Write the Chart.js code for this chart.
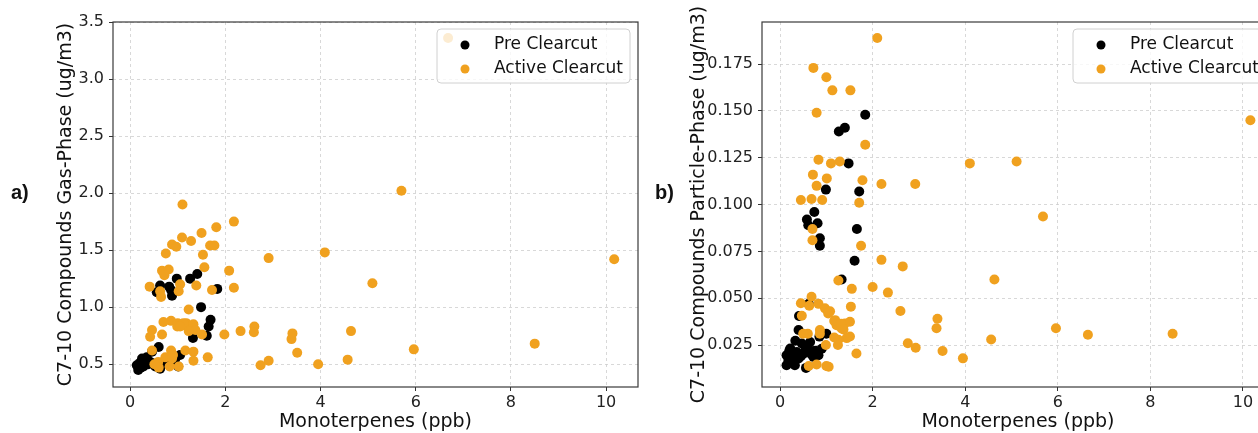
<!DOCTYPE html>
<html>
<head>
<meta charset="utf-8">
<script src="https://cdn.jsdelivr.net/npm/chart.js@4.4.1/dist/chart.umd.min.js"></script>
<style>
html, body { margin: 0; padding: 0; background: #fff; overflow: hidden; width: 1258px; height: 433px; }
#gasChart { position: absolute; left: 0; top: 0; }
#particleChart { position: absolute; left: 645px; top: 0; }
</style>
</head>
<body>
<canvas id="gasChart" width="645" height="433"></canvas>
<canvas id="particleChart" width="636" height="433"></canvas>
<script>
// series names
const seriesNames = ['Pre Clearcut', 'Active Clearcut'];

// tick labels
const monoTicks = [0, 2, 4, 6, 8, 10];
const gasTicks = [0.5, 1.0, 1.5, 2.0, 2.5, 3.0, 3.5];
const particleTicks = [0.025, 0.050, 0.075, 0.100, 0.125, 0.150, 0.175];

// a) gas phase, pre clearcut
const preGasX = [0.82, 0.98, 1.26, 1.41, 0.56, 0.88, 1.83, 0.63, 0.86,
  1.49, 1.69, 1.65, 1.61, 1.32, 0.60, 0.46,
  0.14, 0.25, 0.35, 0.28, 0.42, 0.53, 0.63, 0.80, 0.95, 1.05, 0.17, 0.74, 1.01, 0.20, 0.31, 0.22, 0.38, 0.58, 0.88];
const preGasY = [1.18, 1.25, 1.25, 1.29, 1.13, 1.10, 1.16, 1.19, 1.15,
  1.00, 0.89, 0.83, 0.75, 0.73, 0.65, 0.61,
  0.49, 0.55, 0.56, 0.48, 0.52, 0.48, 0.46, 0.51, 0.55, 0.58, 0.45, 0.52, 0.48, 0.51, 0.52, 0.47, 0.50, 0.50, 0.53];

// a) gas phase, active clearcut
const activeGasX = [6.68, 5.70, 1.10, 2.18, 1.81, 1.50, 1.09, 1.28, 0.88, 0.97, 1.68, 1.77, 0.75, 4.09, 1.53, 2.91,
  10.17, 1.56, 0.67, 0.81, 0.72, 2.08, 5.09, 1.05, 1.39, 0.41, 2.18, 0.63, 1.02, 1.72, 0.65,
  1.23, 0.70, 0.86, 1.00, 1.09, 1.18, 1.26, 1.33, 1.37, 1.23, 0.99, 1.12, 0.46, 0.42, 0.67, 1.51, 1.98, 2.32, 2.61, 2.60,
  0.46, 0.86, 1.16, 1.33, 0.90, 1.33, 1.63, 0.59, 0.83, 1.02, 2.74, 2.91, 3.51, 3.95, 3.39, 3.41, 4.57, 4.64, 5.96, 8.50,
  0.74, 0.60, 0.88, 0.51, 1.05];
const activeGasY = [3.36, 2.02, 1.90, 1.75, 1.70, 1.65, 1.61, 1.58, 1.55, 1.53, 1.54, 1.54, 1.47, 1.48, 1.46, 1.43,
  1.42, 1.35, 1.32, 1.33, 1.28, 1.32, 1.21, 1.20, 1.19, 1.18, 1.17, 1.14, 1.14, 1.15, 1.09,
  0.98, 0.87, 0.88, 0.86, 0.84, 0.86, 0.83, 0.85, 0.80, 0.79, 0.83, 0.86, 0.80, 0.74, 0.76, 0.76, 0.76, 0.79, 0.83, 0.78,
  0.62, 0.62, 0.62, 0.61, 0.58, 0.53, 0.56, 0.52, 0.48, 0.48, 0.49, 0.53, 0.60, 0.50, 0.72, 0.77, 0.54, 0.79, 0.63, 0.68,
  0.56, 0.47, 0.55, 0.50, 0.83];

// b) particle phase, pre clearcut
const preParticleX = [1.84, 1.27, 1.40, 1.48, 0.99, 1.71, 0.74, 0.58, 0.81, 0.61, 0.86, 0.86, 1.66, 1.61, 1.33,
  0.41, 0.40, 0.33, 0.62, 0.85, 1.00,
  0.14, 0.22, 0.25, 0.36, 0.40, 0.50, 0.61, 0.65, 0.76, 0.83, 0.72, 0.56, 0.14, 0.32, 0.90, 0.47, 0.20, 0.28, 0.45, 0.68, 0.55, 0.18];
const preParticleY = [0.148, 0.139, 0.141, 0.122, 0.108, 0.107, 0.096, 0.092, 0.090, 0.089, 0.082, 0.078, 0.087, 0.070, 0.060,
  0.0405, 0.033, 0.0273, 0.047, 0.0295, 0.031,
  0.0196, 0.0231, 0.0160, 0.0213, 0.0178, 0.0204, 0.0231, 0.0266, 0.0220, 0.0196, 0.0187, 0.0128, 0.0142, 0.0142, 0.0230, 0.0258, 0.0220, 0.0185, 0.0190, 0.0200, 0.0225, 0.0170];

// b) particle phase, active clearcut
const activeParticleX = [2.10, 0.72, 1.00, 1.13, 1.52, 0.79, 10.16, 1.84, 0.83, 1.10, 1.29, 4.10, 5.11, 0.71, 1.01, 1.78,
  2.19, 2.92, 0.79, 0.45, 0.68, 0.91, 1.71, 5.68, 0.70, 0.70, 1.75, 2.19, 2.65, 4.63, 1.26, 2.00, 1.55, 2.33,
  2.60, 3.40, 3.38, 5.96, 6.65, 8.48, 4.56, 2.76, 2.93, 3.51, 3.95, 1.65, 1.05,
  0.45, 0.68, 0.83, 0.63, 0.97, 1.04, 1.19, 1.22, 1.33, 1.40, 1.53, 1.51, 0.47, 0.86, 1.17, 1.32, 1.37, 1.44,
  1.26, 1.17, 1.51, 0.99, 0.86, 0.62, 0.79, 1.00, 0.60, 1.08, 1.25, 0.50];
const activeParticleY = [0.189, 0.173, 0.168, 0.161, 0.161, 0.149, 0.145, 0.132, 0.124, 0.122, 0.123, 0.122, 0.123, 0.116, 0.114, 0.113,
  0.111, 0.111, 0.110, 0.1025, 0.103, 0.1025, 0.101, 0.0936, 0.087, 0.081, 0.078, 0.0705, 0.067, 0.060, 0.0595, 0.056, 0.055, 0.053,
  0.0432, 0.039, 0.034, 0.034, 0.0305, 0.031, 0.028, 0.026, 0.0236, 0.0218, 0.0179, 0.0205, 0.0134,
  0.0473, 0.0508, 0.047, 0.046, 0.0446, 0.0418, 0.0383, 0.0356, 0.0338, 0.0365, 0.0455, 0.0374, 0.0406, 0.033, 0.0378, 0.0364, 0.0333, 0.0287,
  0.0278, 0.029, 0.0296, 0.025, 0.031, 0.0138, 0.0146, 0.0138, 0.031, 0.043, 0.025, 0.031];

const black = '#000000';
const orange = '#f0a11f';
const font = 'DejaVu Sans';

function toPoints(xs, ys) {
    return xs.map((x, i) => ({x: x, y: ys[i]}));
}

// full box round the plot, like matplotlib spines
const framePlugin = {
    id: 'frame',
    afterDraw(chart) {
        const a = chart.chartArea, c = chart.ctx;
        c.save();
        c.strokeStyle = '#3a3a3a';
        c.lineWidth = 1.2;
        c.strokeRect(a.left, a.top, a.right - a.left, a.bottom - a.top);
        c.restore();
    }
};

// legend box in the upper right corner
const boxLegendPlugin = {
    id: 'boxLegend',
    afterDraw(chart) {
        const a = chart.chartArea, c = chart.ctx;
        const w = 193, h = 54;
        const left = a.right - 8 - w, top = a.top + 7;
        c.save();
        c.fillStyle = 'rgba(255,255,255,0.8)';
        c.strokeStyle = '#d0d0d0';
        c.lineWidth = 1;
        c.beginPath();
        c.roundRect(left, top, w, h, 4);
        c.fill();
        c.stroke();
        c.font = '17px "' + font + '"';
        c.textBaseline = 'middle';
        const colors = [black, orange];
        seriesNames.forEach((name, i) => {
            const y = top + 16 + i * 24;
            c.fillStyle = colors[i];
            c.beginPath();
            c.arc(left + 28, y, 4.5, 0, Math.PI * 2);
            c.fill();
            c.fillStyle = '#111';
            c.fillText(name, left + 57, y);
        });
        c.restore();
    }
};

const panelLabelPlugin = {
    id: 'panelLabel',
    afterDraw(chart, args, opts) {
        const c = chart.ctx;
        c.save();
        c.font = 'bold 20px "Liberation Sans"';
        c.fillStyle = '#111';
        c.textBaseline = 'middle';
        c.fillText(opts.text, opts.x, 193);
        c.restore();
    }
};

function makeChart(id, cfg) {
    return new Chart(document.getElementById(id), {
        type: 'scatter',
        data: {
            datasets: [
                {label: seriesNames[0], data: cfg.pre, backgroundColor: black, pointRadius: 5, borderWidth: 0, order: 1},
                {label: seriesNames[1], data: cfg.active, backgroundColor: orange, pointRadius: 5, borderWidth: 0, order: 0}
            ]
        },
        options: {
            responsive: false,
            animation: false,
            layout: {padding: {left: 0, top: 22, right: 7, bottom: 0}},
            plugins: {
                legend: {display: false},
                tooltip: {enabled: false},
                panelLabel: {text: cfg.label, x: cfg.labelX}
            },
            scales: {
                x: {
                    type: 'linear',
                    min: cfg.xMin, max: cfg.xMax,
                    afterBuildTicks: s => { s.ticks = monoTicks.map(v => ({value: v})); },
                    afterFit: s => { s.height = 46; },
                    ticks: {font: {family: font, size: 16}, color: '#222', padding: 2,
                            callback: v => String(v)},
                    grid: {color: '#cfcfcf', lineWidth: 0.8, tickColor: '#333', tickLength: 4, tickWidth: 1},
                    border: {display: false, dash: [3, 3]},
                    title: {display: true, text: 'Monoterpenes (ppb)', font: {family: font, size: 19},
                            color: '#111', padding: {top: 0, bottom: 0}}
                },
                y: {
                    type: 'linear',
                    min: cfg.yMin, max: cfg.yMax,
                    afterBuildTicks: s => { s.ticks = cfg.yTicks.map(v => ({value: v})); },
                    afterFit: s => { s.width = cfg.yWidth; },
                    ticks: {font: {family: font, size: 16}, color: '#222', padding: 5,
                            callback: v => v.toFixed(cfg.decimals)},
                    grid: {color: '#cfcfcf', lineWidth: 0.8, tickColor: '#333', tickLength: 4, tickWidth: 1},
                    border: {display: false, dash: [3, 3]},
                    title: {display: true, text: cfg.yTitle, font: {family: font, size: 19},
                            color: '#111', padding: {top: cfg.titlePad, bottom: 0}}
                }
            }
        },
        plugins: [framePlugin, boxLegendPlugin, panelLabelPlugin]
    });
}

makeChart('gasChart', {
    pre: toPoints(preGasX, preGasY),
    active: toPoints(activeGasX, activeGasY),
    xMin: -0.36, xMax: 10.67,
    yMin: 0.3, yMax: 3.5,
    yTicks: gasTicks, decimals: 1,
    yWidth: 113, titlePad: 55,
    yTitle: 'C7-10 Compounds Gas-Phase (ug/m3)',
    label: 'a)', labelX: 11
});

makeChart('particleChart', {
    pre: toPoints(preParticleX, preParticleY),
    active: toPoints(activeParticleX, activeParticleY),
    xMin: -0.39, xMax: 10.67,
    yMin: 0.0026, yMax: 0.1975,
    yTicks: particleTicks, decimals: 3,
    yWidth: 117, titlePad: 43,
    yTitle: 'C7-10 Compounds Particle-Phase (ug/m3)',
    label: 'b)', labelX: 10
});
</script>
</body>
</html>
